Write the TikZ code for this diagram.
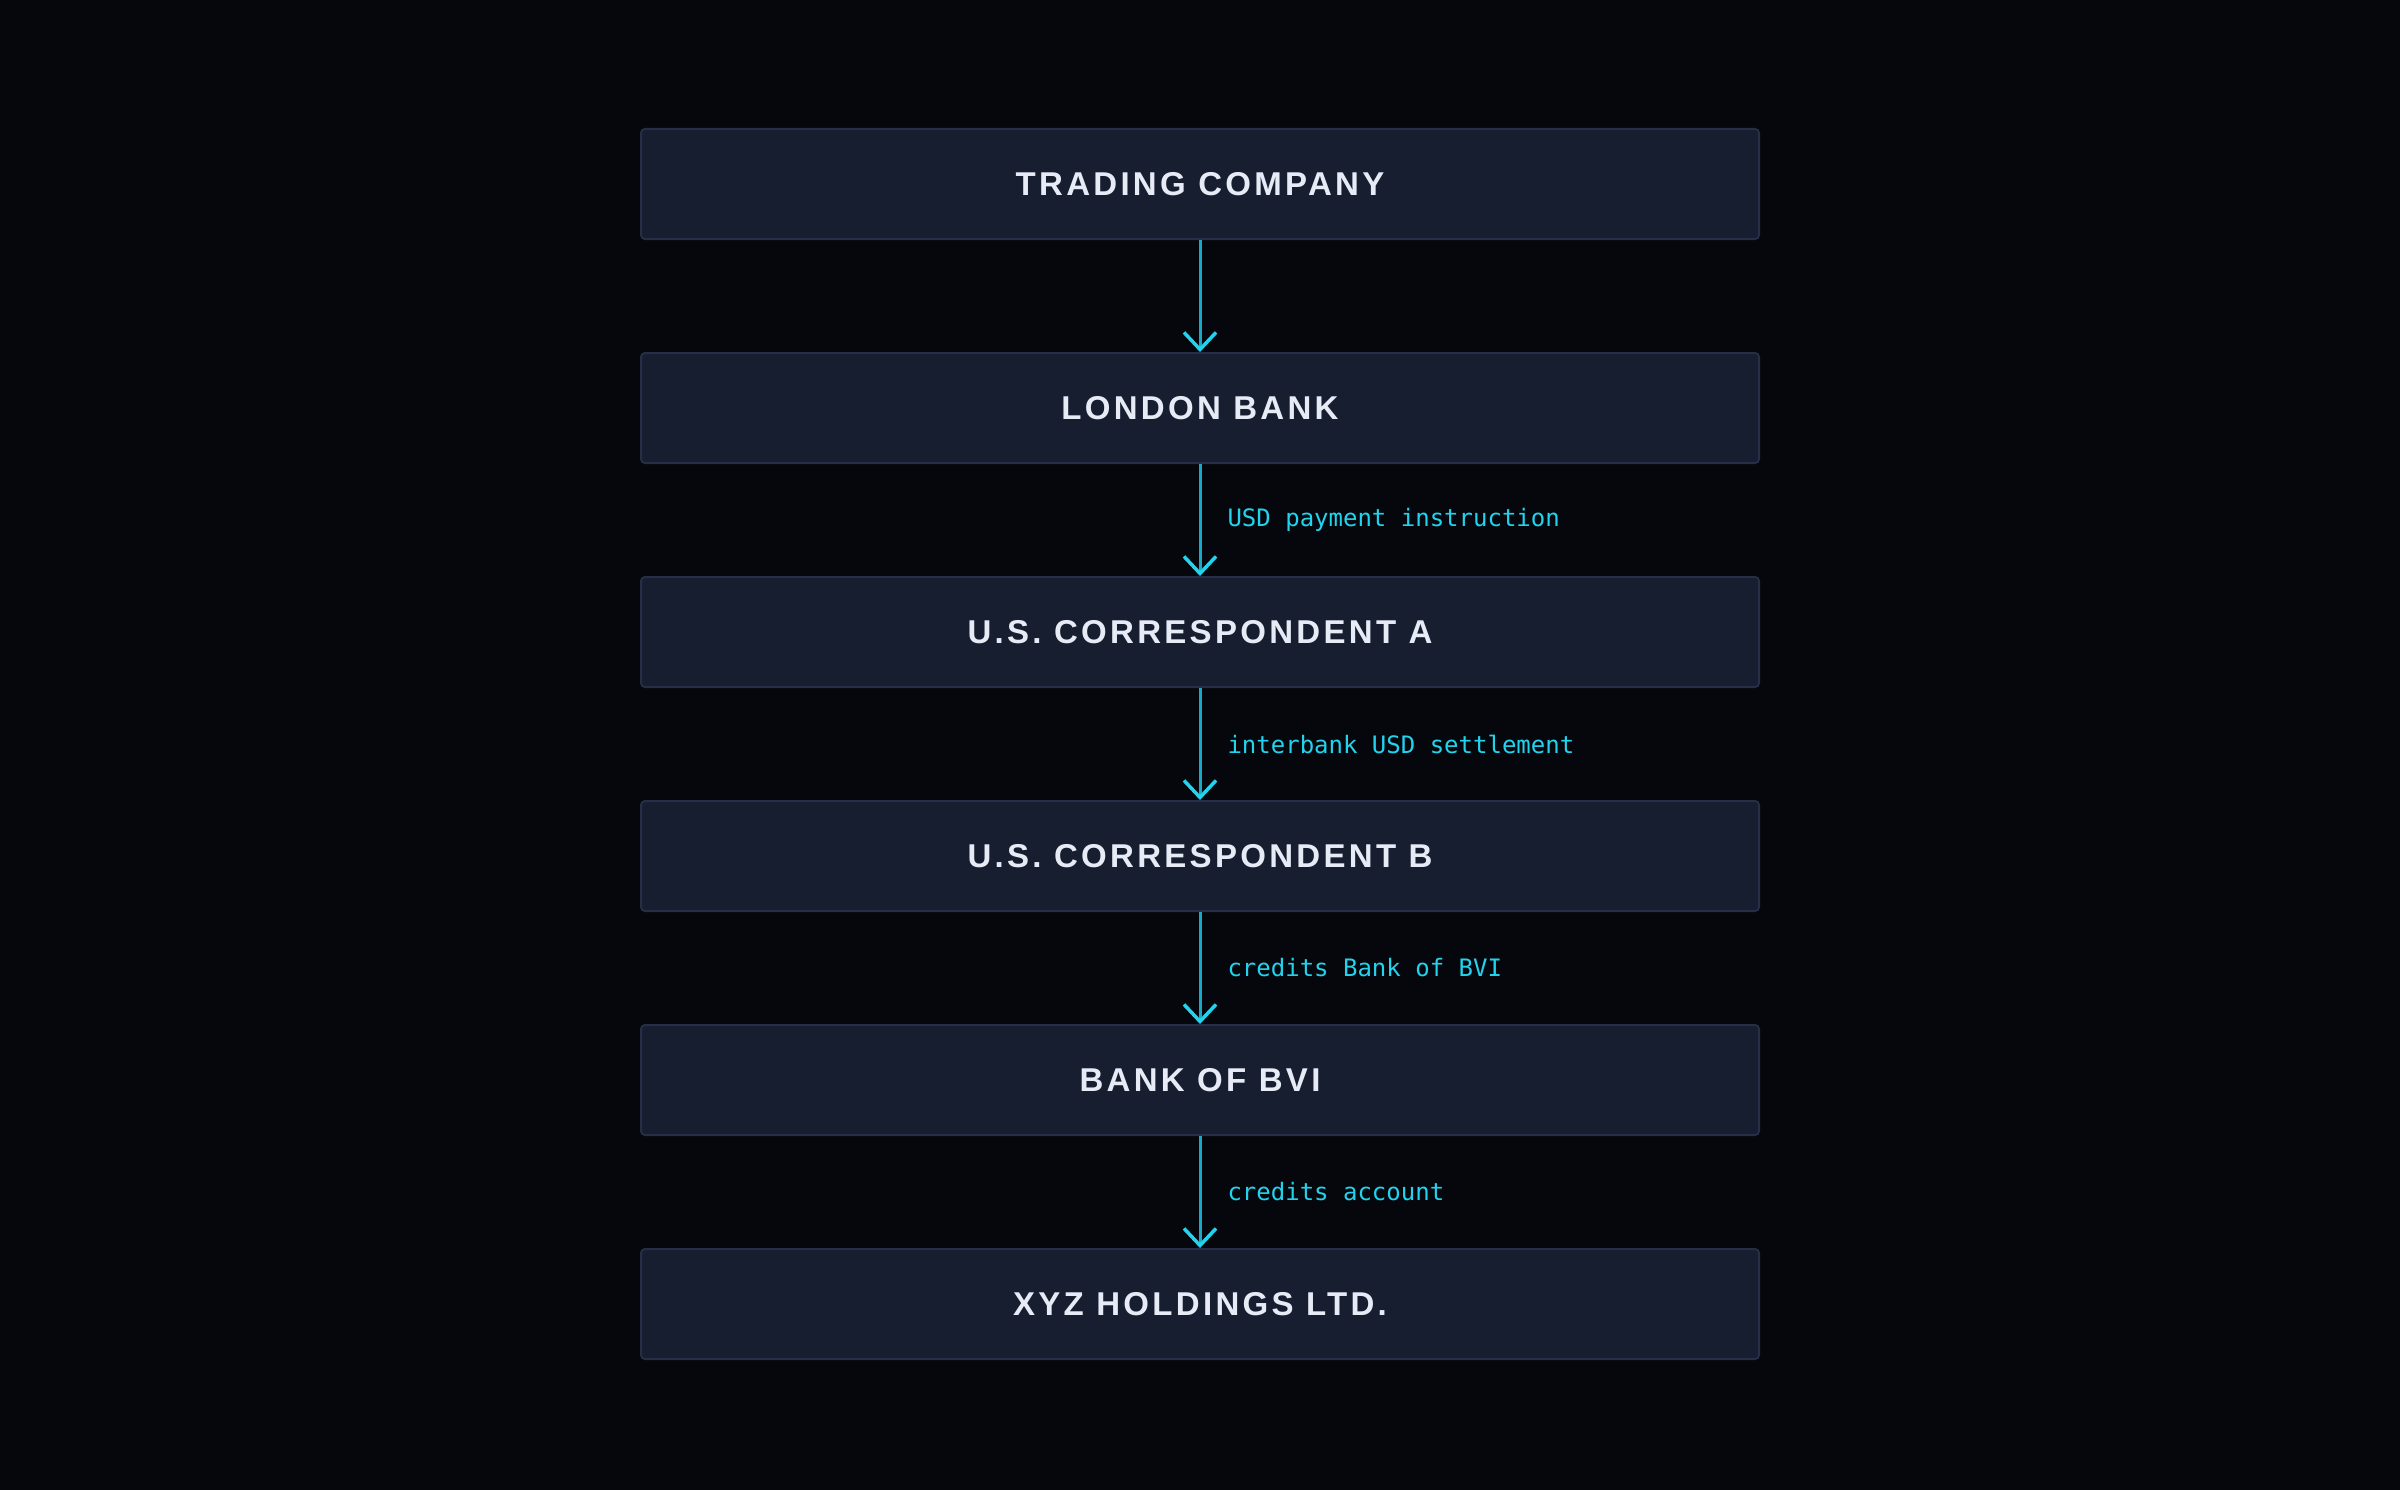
\documentclass[tikz,border=0pt]{standalone}
\usepackage{fontspec}
\usetikzlibrary{arrows.meta,positioning}
\newfontfamily\boxfont[LetterSpace=10]{Liberation Sans}
\newfontfamily\notefont{DejaVu Sans Mono}
\definecolor{bgDark}{HTML}{05070C}
\definecolor{boxFill}{HTML}{161E30}
\definecolor{boxLine}{HTML}{262F47}
\definecolor{boxText}{HTML}{E6EBF5}
\definecolor{flowLine}{HTML}{18A8C8}
\definecolor{flowHead}{HTML}{22D3EE}
\begin{document}
\begin{tikzpicture}
[x=1pt,y=-1pt,
  bankDecorate/.style={shape=rectangle,draw=boxLine,fill=boxFill,line width=2pt,
    rounded corners=4pt,minimum width=1118pt,minimum height=110pt,
    text=boxText,font=\boxfont\bfseries\fontsize{33}{40}\selectfont},
  flowDecorate/.style={draw=flowLine,line width=3pt,
    -{Straight Barb[length=17pt,width=32pt,line width=3.5pt,color=flowHead]}},
  noteDecorate/.style={text=flowHead,anchor=west,inner sep=0pt,
    font=\notefont\fontsize{24}{28}\selectfont}]
\useasboundingbox[fill=bgDark] (0,0) rectangle (2400,1490);
%% banks along the payment chain
\foreach \nodename/\y/\txt in {
  trader/184/TRADING COMPANY, london/408/LONDON BANK,
  corrA/632/U.S. CORRESPONDENT A, corrB/856/U.S. CORRESPONDENT B,
  bvi/1080/BANK OF BVI, xyz/1304/XYZ HOLDINGS LTD.}
{
  \node (\nodename) at (1200,\y) [bankDecorate] {\txt};
}
%% transfers between banks
\foreach \startnode/\endnode/\note in {
  trader/london/, london/corrA/USD payment instruction,
  corrA/corrB/interbank USD settlement, corrB/bvi/credits Bank of BVI,
  bvi/xyz/credits account}
{
  \draw[flowDecorate] (\startnode.south) -- (\endnode.north)
    node[midway,xshift=26pt,noteDecorate] {\note};
}
\end{tikzpicture}
\end{document}
